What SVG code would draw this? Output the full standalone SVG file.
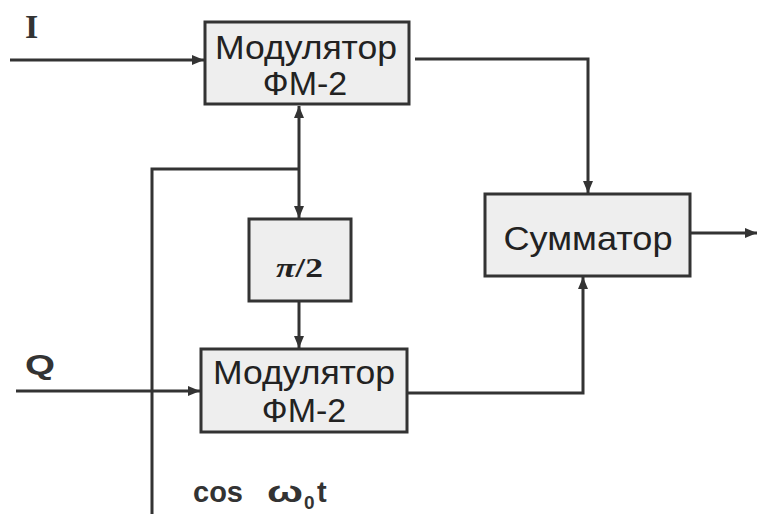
<svg xmlns="http://www.w3.org/2000/svg" width="757" height="514" viewBox="0 0 757 514">
<style>
.box{fill:#eeeeee;stroke:#333333;stroke-width:3}
.ln{fill:none;stroke:#333333;stroke-width:3}
.t{font-family:"Liberation Sans",Arial,sans-serif;font-size:34px;fill:#222222;text-anchor:middle}
.lab{font-family:"Liberation Sans",Arial,sans-serif;font-weight:bold;fill:#333333}
</style>
<defs>
<marker id="ah" viewBox="0 0 12 10" refX="12" refY="5" markerWidth="12" markerHeight="10" markerUnits="userSpaceOnUse" orient="auto-start-reverse">
<path d="M0,0 L12,5 L0,10 Z" fill="#333333"/>
</marker>
</defs>
<rect width="757" height="514" fill="#ffffff"/>
<g id="connectors">
<line class="ln" x1="10" y1="60" x2="204" y2="60" marker-end="url(#ah)"/>
<line class="ln" x1="16" y1="391" x2="200" y2="391" marker-end="url(#ah)"/>
<line class="ln" x1="299" y1="106" x2="299" y2="218" marker-start="url(#ah)" marker-end="url(#ah)"/>
<polyline class="ln" points="299,169 152,169 152,514"/>
<line class="ln" x1="299" y1="302" x2="299" y2="348" marker-end="url(#ah)"/>
<polyline class="ln" points="415,59 588,59 588,193" marker-end="url(#ah)"/>
<polyline class="ln" points="407,393 583,393 583,277" marker-end="url(#ah)"/>
<line class="ln" x1="690" y1="233" x2="757" y2="233" marker-end="url(#ah)"/>
</g>
<g id="mod1">
<rect class="box" x="205" y="22" width="204" height="82"/>
<text class="t" x="306" y="59" textLength="182" lengthAdjust="spacingAndGlyphs">Модулятор</text>
<text class="t" x="305" y="95">ФМ-2</text>
</g>
<g id="phase">
<rect class="box" x="249" y="219" width="102" height="82"/>
<text x="276" y="277" font-family="'Liberation Serif','Times New Roman',serif" font-weight="bold" font-size="28" fill="#222222" textLength="47" lengthAdjust="spacingAndGlyphs"><tspan font-style="italic">π</tspan>/2</text>
</g>
<g id="mod2">
<rect class="box" x="201" y="349" width="206" height="83"/>
<text class="t" x="304" y="384" textLength="182" lengthAdjust="spacingAndGlyphs">Модулятор</text>
<text class="t" x="304" y="422">ФМ-2</text>
</g>
<g id="sum">
<rect class="box" x="485" y="194" width="205" height="82"/>
<text class="t" x="588" y="250" textLength="169" lengthAdjust="spacingAndGlyphs">Сумматор</text>
</g>
<g id="labels">
<text x="25" y="38" font-family="'Liberation Serif','Times New Roman',serif" font-weight="bold" font-size="34" fill="#333333">I</text>
<text class="lab" x="25" y="374" font-size="28" textLength="30" lengthAdjust="spacingAndGlyphs">Q</text>
<text class="lab" x="193" y="502" font-size="29" textLength="50" lengthAdjust="spacingAndGlyphs">cos</text>
<text class="lab" x="267" y="502" font-size="29" textLength="36" lengthAdjust="spacingAndGlyphs">ω</text>
<text class="lab" x="304" y="509" font-size="19">0</text>
<text class="lab" x="317" y="502" font-size="29">t</text>
</g>
</svg>
